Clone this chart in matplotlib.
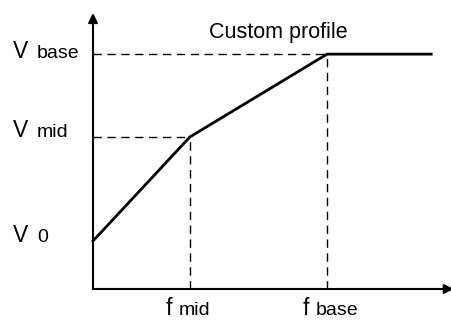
import matplotlib
matplotlib.use('Agg')
import matplotlib.pyplot as plt

# custom V/f profile, in fractions of the axis span
freq = [0.0, 0.270, 0.652, 0.942]
volt = [0.174, 0.551, 0.851, 0.851]

f_mid, f_base = freq[1], freq[2]
v_0, v_mid, v_base = volt[0], volt[1], volt[2]

v_labels = [("0", v_0, -1), ("mid", v_mid, 0), ("base", v_base, -4)]
f_labels = [("mid", f_mid), ("base", f_base)]

plt.rcParams['font.family'] = ['Liberation Sans', 'DejaVu Sans']

fig = plt.figure(figsize=(4.52, 3.2), dpi=100)
W, H = 452.0, 320.0
ax = fig.add_axes([93 / W, (H - 289) / H, 359 / W, 276 / H])
ax.set_xlim(0, 1)
ax.set_ylim(0, 1)
ax.axis('off')

# the profile itself
ax.plot(freq, volt, color='black', lw=2, solid_joinstyle='miter', clip_on=False)

# guide lines
dash = (0, (6, 4))
ax.plot([0, f_base], [v_base, v_base], color='black', lw=1, linestyle=dash)
ax.plot([0, f_mid], [v_mid, v_mid], color='black', lw=1, linestyle=dash)
ax.plot([f_mid, f_mid], [0, v_mid], color='black', lw=1, linestyle=dash)
ax.plot([f_base, f_base], [0, v_base], color='black', lw=1, linestyle=dash)

# axes with arrow heads
arrow = dict(arrowstyle='-|>', lw=1.5, color='black', mutation_scale=14,
             shrinkA=0, shrinkB=0)
ax.annotate('', xy=(0, 1.0), xytext=(0, 0), xycoords='axes fraction',
            arrowprops=arrow, annotation_clip=False)
ax.annotate('', xy=(1.005, 0), xytext=(0, 0), xycoords='axes fraction',
            arrowprops=arrow, annotation_clip=False)

# V labels on the left
for sub, v, dy in v_labels:
    ax.annotate('V', xy=(0, v), xytext=(-80, dy), textcoords='offset pixels',
                fontsize=16.5, ha='left', va='baseline', annotation_clip=False)
    ax.annotate(sub, xy=(0, v), xytext=(-56, dy), textcoords='offset pixels',
                fontsize=14, ha='left', va='baseline', annotation_clip=False)

# f labels below
for sub, f in f_labels:
    ax.annotate('f', xy=(f, 0), xytext=(-24, -26), textcoords='offset pixels',
                fontsize=16.5, ha='left', va='baseline', annotation_clip=False)
    ax.annotate(sub, xy=(f, 0), xytext=(-11, -26), textcoords='offset pixels',
                fontsize=14, ha='left', va='baseline', annotation_clip=False)

ax.text(0.515, 0.909, 'Custom profile', transform=ax.transAxes,
        fontsize=15.5, ha='center', va='baseline')

fig.savefig('out.png', dpi=100)
